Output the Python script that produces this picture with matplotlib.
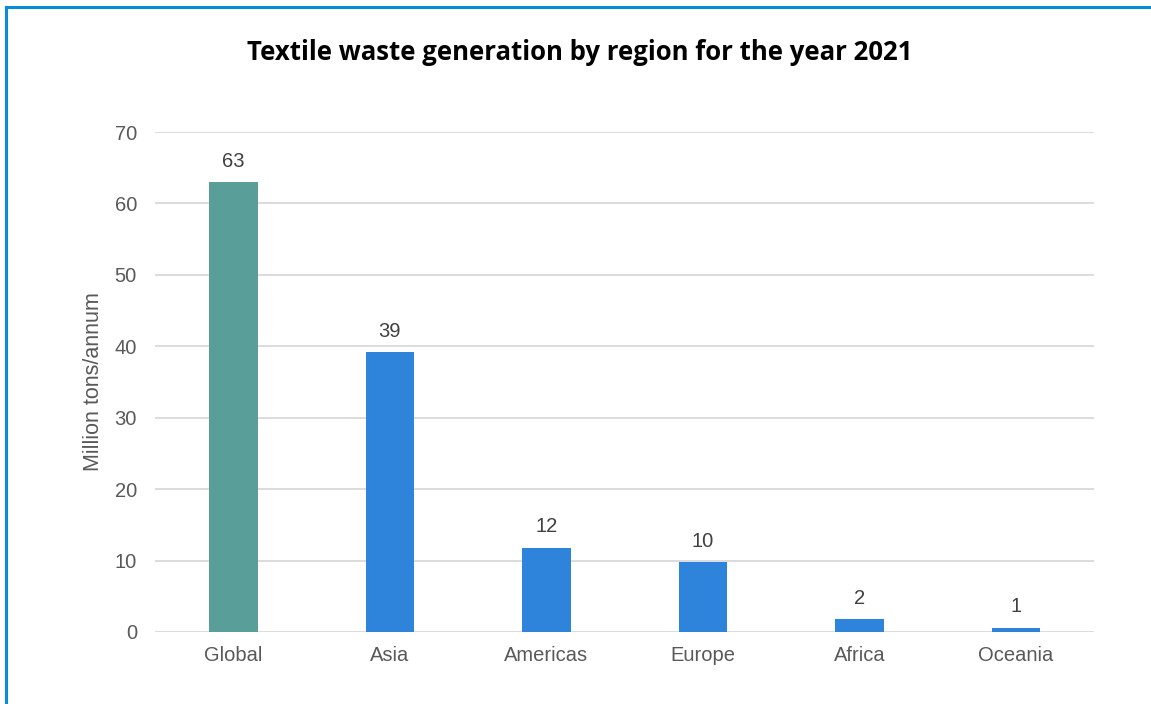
import matplotlib
matplotlib.use("Agg")
import matplotlib.pyplot as plt
from matplotlib.lines import Line2D

# chart data
regions = ["Global", "Asia", "Americas", "Europe", "Africa", "Oceania"]
waste = [63.0, 39.2, 11.8, 9.8, 1.8, 0.6]
labels = ["63", "39", "12", "10", "2", "1"]
bar_colors = ["#5A9E9A", "#2E83DB", "#2E83DB", "#2E83DB", "#2E83DB", "#2E83DB"]
yticks = [0, 10, 20, 30, 40, 50, 60, 70]

fig = plt.figure(figsize=(11.51, 7.04), dpi=100)
ax = fig.add_axes([0.1347, 0.1023, 0.8158, 0.7102])

x = range(len(regions))
ax.bar(x, waste, width=0.31, color=bar_colors, zorder=3)

# value labels above bars
for xi, v, lab in zip(x, waste, labels):
    ax.text(xi, v + 1.6, lab, ha="center", va="bottom", fontsize=14.5,
            color="#404040", family="Liberation Sans")

ax.set_xlim(-0.5, len(regions) - 0.5)
ax.set_ylim(0, 70)
ax.set_yticks(yticks)
ax.set_xticks(list(x))
ax.set_xticklabels(regions)
ax.grid(axis="y", color="#D9D9D9", linewidth=1.3, zorder=0)
for s in ax.spines.values():
    s.set_visible(False)
ax.tick_params(length=0, labelsize=14.5, labelcolor="#595959")
for t in ax.get_xticklabels() + ax.get_yticklabels():
    t.set_family("Liberation Sans")
ax.tick_params(axis="y", pad=13)
ax.tick_params(axis="x", pad=10)

ax.set_ylabel("Million tons/annum", fontsize=15.5, color="#595959",
              family="Liberation Sans")
ax.yaxis.set_label_coords(-0.0543, 0.5)

fig.text(0.504, 0.926, "Textile waste generation by region for the year 2021",
         ha="center", va="center", fontsize=18.5, fontweight="bold",
         family="Open Sans", color="black")

# blue frame along left and top edges
border = "#0A8BD6"
fig.add_artist(Line2D([0.0055, 0.0055], [0, 0.990], color=border, lw=2.2))
fig.add_artist(Line2D([0.0055, 1.0], [0.990, 0.990], color=border, lw=2.2))

fig.savefig("out.png", dpi=100)
